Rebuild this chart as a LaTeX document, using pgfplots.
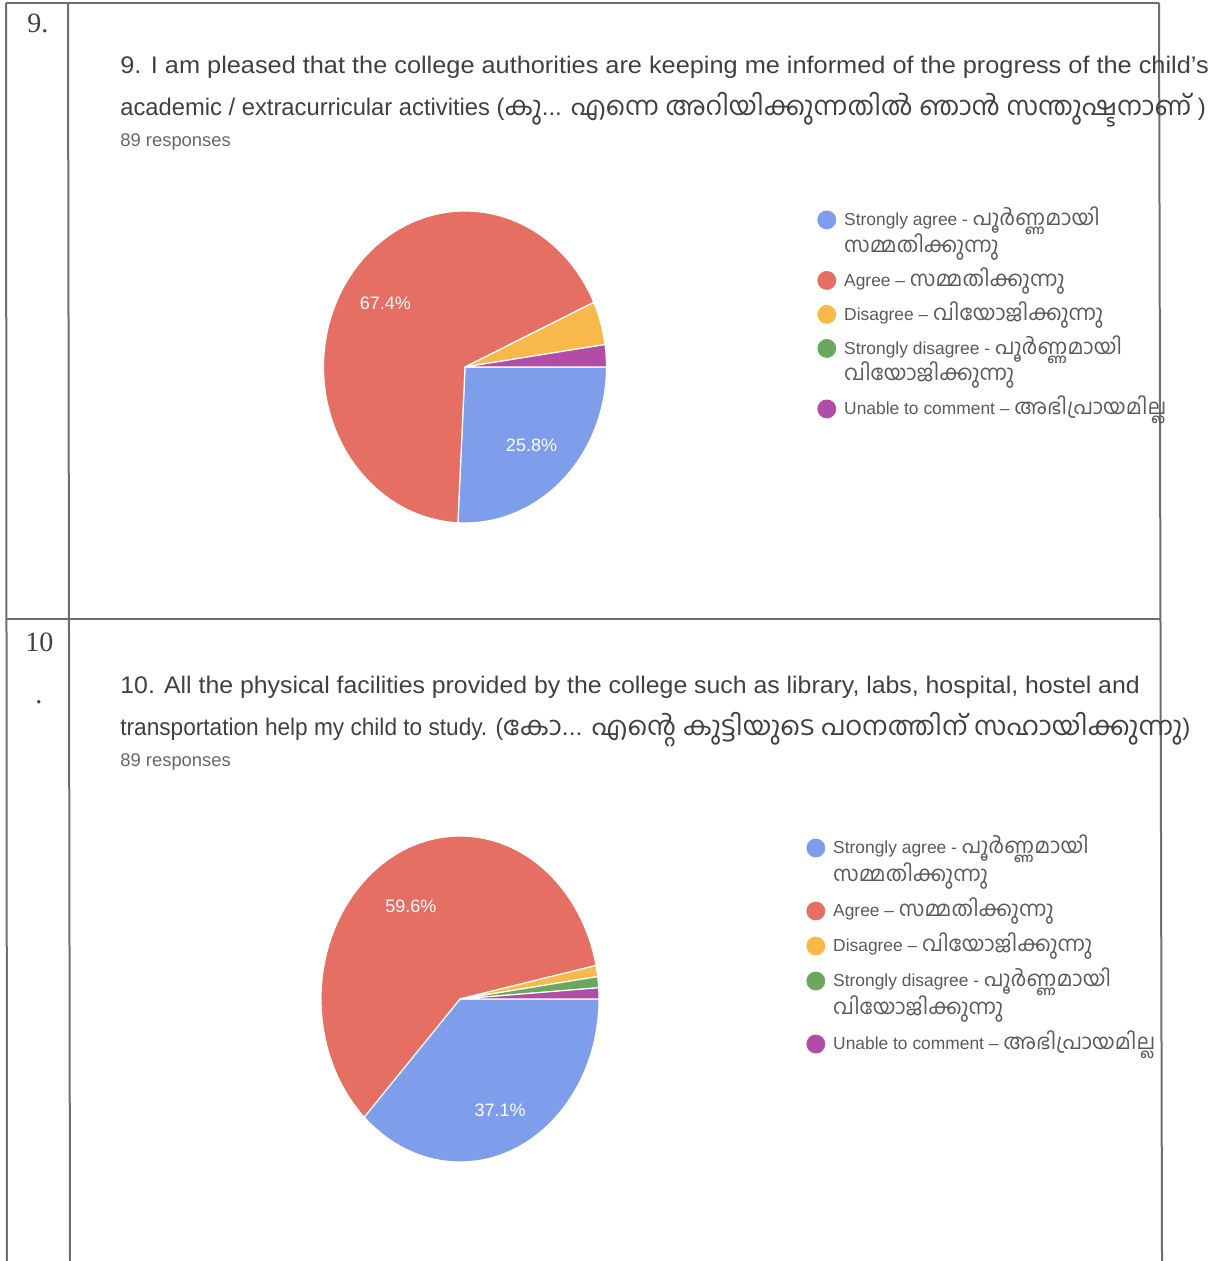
\documentclass[border=0pt]{standalone}
\usepackage{fontspec}
\usepackage{graphicx}
\usepackage{pgfplots}
\pgfplotsset{compat=1.18}
\setmainfont{Liberation Sans}
\newfontfamily\mal[Script=Malayalam,Scale=1.09]{Hind Kochi}
\newfontfamily\malL[Script=Malayalam,Scale=1.22]{Hind Kochi}
\newfontfamily\numfont{Liberation Serif}

\definecolor{cblue}{HTML}{7E9EEB}
\definecolor{cred}{HTML}{E46F62}
\definecolor{corange}{HTML}{F9B94A}
\definecolor{cgreen}{HTML}{6BA85E}
\definecolor{cpurple}{HTML}{B14DA6}
\definecolor{ctext}{HTML}{404040}
\definecolor{cleg}{HTML}{5A5A5A}
\definecolor{cresp}{HTML}{666666}
\definecolor{cline}{HTML}{6E6E6E}

% #1 x radius, #2 y radius, #3 start (cum. %), #4 end (cum. %), #5 colour
\newcommand{\pieslice}[5]{%
  \fill[#5, draw=white, line width=0.6pt, line join=round]
    (axis cs:0,0) -- ++({-3.6*#3}:#1 and #2)
    arc[start angle={-3.6*#3}, end angle={-3.6*#4}, x radius=#1, y radius=#2] -- cycle;}
\newcommand{\twoline}[2]{\vtop{\hbox{\strut#1}\hbox{\strut#2}}}
\newcommand{\ml}[1]{\smash{\malL #1}}
\newcommand{\legimg}[1]{\addlegendimage{legend image code/.code={\fill[#1] (0pt,2.9pt) circle[radius=4.5pt];}}}

\begin{document}
\begin{tikzpicture}
\begin{scope}[x=0.5pt,y=-0.5pt]
  % table rules
  \draw[cline, line width=1pt] (6,3) -- (1159,3);
  \draw[cline, line width=1pt] (6,3) -- (7,1261);
  \draw[cline, line width=1pt] (68,3) -- (70,1261);
  \draw[cline, line width=1pt] (1159,3) -- (1162,1261);
  \draw[cline, line width=0.8pt] (6,619) -- (1161,619);
  % row numbers
  \node[anchor=base west, inner sep=0pt, font=\numfont\fontsize{14pt}{16pt}\selectfont, text=black!75] at (27,33) {9.};
  \node[anchor=base west, inner sep=0pt, font=\numfont\fontsize{14pt}{16pt}\selectfont, text=black!75] at (25,651) {10};
  \node[anchor=base west, inner sep=0pt, font=\numfont\fontsize{14pt}{16pt}\selectfont, text=black!75] at (35,703) {.};
  % titles
  \node[anchor=base west, inner sep=0pt, font=\fontsize{12pt}{14pt}\selectfont, text=ctext] at (120,74)
    {\scalebox{1.055}[1]{9. I am pleased that the college authorities are keeping me informed of the progress of the child's}};
  \node[anchor=base west, inner sep=0pt, font=\fontsize{12pt}{14pt}\selectfont, text=ctext] at (120,116)
    {\scalebox{0.99}[1]{academic / extracurricular activities (}{\mal കു}... {\mal എന്നെ അറിയിക്കുന്നതിൽ ഞാൻ സന്തുഷ്ടനാണ്} )};
  \node[anchor=base west, inner sep=0pt, font=\fontsize{9.2pt}{10pt}\selectfont, text=cresp] at (120,147) {89 responses};
  \node[anchor=base west, inner sep=0pt, font=\fontsize{12pt}{14pt}\selectfont, text=ctext] at (120,693)
    {\scalebox{1.035}[1]{10. All the physical facilities provided by the college such as library, labs, hospital, hostel and}};
  \node[anchor=base west, inner sep=0pt, font=\fontsize{12pt}{14pt}\selectfont, text=ctext] at (120,735)
    {\scalebox{0.943}[1]{transportation help my child to study. (}\scalebox{1.025}[1]{{\mal കോ}... {\mal എന്റെ കുട്ടിയുടെ പഠനത്തിന് സഹായിക്കുന്നു}})};
  \node[anchor=base west, inner sep=0pt, font=\fontsize{9.2pt}{10pt}\selectfont, text=cresp] at (120,766) {89 responses};
\end{scope}

% ---- pie 9 ----
\begin{axis}[at={(232.5pt,-183.5pt)}, anchor=center, hide axis, clip=false,
  x=70.75pt, y=78pt, xmin=-1, xmax=1, ymin=-1, ymax=1,
  legend style={draw=none, fill=none, inner sep=0pt, anchor=north west, at={(1.7438,1.0135)},
    font=\fontsize{8.7pt}{13.25pt}\selectfont, row sep=3.75pt, column sep=4pt,
    cells={anchor=base west}, nodes={inner sep=0pt, text depth={}, text=cleg}}]
  \pieslice{70.75pt}{78pt}{0}{25.8}{cblue}
  \pieslice{70.75pt}{78pt}{25.8}{93.2}{cred}
  \pieslice{70.75pt}{78pt}{93.2}{97.7}{corange}
  \pieslice{70.75pt}{78pt}{97.7}{100}{cpurple}
  \node[font=\fontsize{9pt}{10pt}\selectfont, text=white] at (axis cs:-0.562,0.407) {67.4\%};
  \node[font=\fontsize{9pt}{10pt}\selectfont, text=white] at (axis cs:0.47,-0.5) {25.8\%};
  \legimg{cblue}\addlegendentry{\twoline{Strongly agree - \ml{പൂർണ്ണമായി}}{\ml{സമ്മതിക്കുന്നു}}}
  \legimg{cred}\addlegendentry{\strut Agree – \ml{സമ്മതിക്കുന്നു}}
  \legimg{corange}\addlegendentry{\strut Disagree – \ml{വിയോജിക്കുന്നു}}
  \legimg{cgreen}\addlegendentry{\twoline{Strongly disagree - \ml{പൂർണ്ണമായി}}{\ml{വിയോജിക്കുന്നു}}}
  \legimg{cpurple}\addlegendentry{\strut Unable to comment – \ml{അഭിപ്രായമില്ല}}
\end{axis}

% ---- pie 10 ----
\begin{axis}[at={(230pt,-499.5pt)}, anchor=center, hide axis, clip=false,
  x=69.5pt, y=81.5pt, xmin=-1, xmax=1, ymin=-1, ymax=1,
  legend style={draw=none, fill=none, inner sep=0pt, anchor=north west, at={(1.7446,1.0067)},
    font=\fontsize{8.7pt}{14pt}\selectfont, row sep=3.5pt, column sep=4pt,
    cells={anchor=base west}, nodes={inner sep=0pt, text depth={}, text=cleg}}]
  \pieslice{69.5pt}{81.5pt}{0}{37.1}{cblue}
  \pieslice{69.5pt}{81.5pt}{37.1}{96.7}{cred}
  \pieslice{69.5pt}{81.5pt}{96.7}{97.8}{corange}
  \pieslice{69.5pt}{81.5pt}{97.8}{98.9}{cgreen}
  \pieslice{69.5pt}{81.5pt}{98.9}{100}{cpurple}
  \node[font=\fontsize{9pt}{10pt}\selectfont, text=white] at (axis cs:-0.353,0.571) {59.6\%};
  \node[font=\fontsize{9pt}{10pt}\selectfont, text=white] at (axis cs:0.288,-0.684) {37.1\%};
  \legimg{cblue}\addlegendentry{\twoline{Strongly agree - \ml{പൂർണ്ണമായി}}{\ml{സമ്മതിക്കുന്നു}}}
  \legimg{cred}\addlegendentry{\strut Agree – \ml{സമ്മതിക്കുന്നു}}
  \legimg{corange}\addlegendentry{\strut Disagree – \ml{വിയോജിക്കുന്നു}}
  \legimg{cgreen}\addlegendentry{\twoline{Strongly disagree - \ml{പൂർണ്ണമായി}}{\ml{വിയോജിക്കുന്നു}}}
  \legimg{cpurple}\addlegendentry{\strut Unable to comment – \ml{അഭിപ്രായമില്ല}}
\end{axis}

\pgfresetboundingbox
\path (0pt,0pt) rectangle (607.5pt,-630.5pt);
\end{tikzpicture}
\end{document}
